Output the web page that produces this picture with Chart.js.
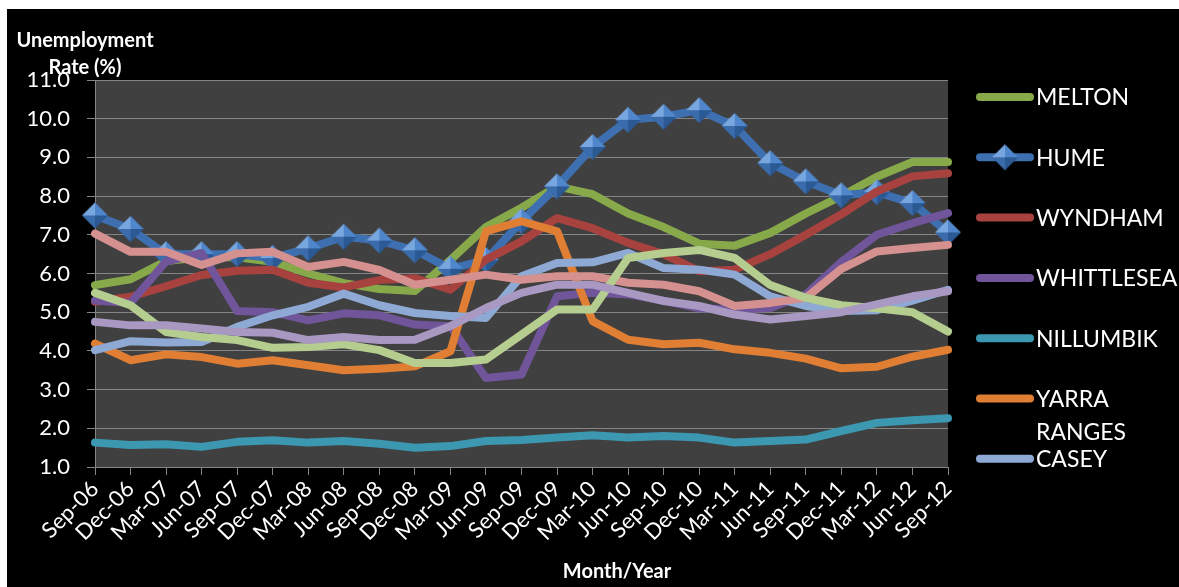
<!DOCTYPE html>
<html lang="en">
  <head>
    <meta charset="UTF-8" />
    <title>Unemployment Rate by Month/Year</title>
    <script src="https://cdn.jsdelivr.net/npm/chart.js"></script>
    <style>
      html,
      body {
        margin: 0;
        background: #ffffff;
      }
      /* black chart box, the page shows a thin white border top/left */
      .chart-box {
        position: absolute;
        left: 7px;
        top: 9px;
        width: 1172px;
        height: 578px;
        background: #000000;
      }
    </style>
  </head>
  <body>
    <div class="chart-box"><canvas id="unemploymentChart"></canvas></div>

    <script>
      const months = [
        "Sep-06", "Dec-06", "Mar-07", "Jun-07", "Sep-07", "Dec-07", "Mar-08", "Jun-08", "Sep-08",
        "Dec-08", "Mar-09", "Jun-09", "Sep-09", "Dec-09", "Mar-10", "Jun-10", "Sep-10", "Dec-10",
        "Mar-11", "Jun-11", "Sep-11", "Dec-11", "Mar-12", "Jun-12", "Sep-12"
      ];

      const melton = [5.7, 5.85, 6.32, 6.42, 6.42, 6.3, 6.0, 5.75, 5.6, 5.55, 6.35, 7.2, 7.7, 8.25, 8.05, 7.55, 7.2, 6.77, 6.72, 7.05, 7.55, 8.0, 8.5, 8.88, 8.88];
      const hume = [7.5, 7.15, 6.5, 6.5, 6.5, 6.4, 6.65, 6.95, 6.85, 6.6, 6.12, 6.35, 7.35, 8.25, 9.27, 9.97, 10.05, 10.22, 9.81, 8.85, 8.38, 8.02, 8.1, 7.82, 7.06];
      const wyndham = [5.27, 5.4, 5.67, 5.96, 6.07, 6.1, 5.76, 5.64, 5.83, 5.88, 5.58, 6.36, 6.83, 7.43, 7.17, 6.79, 6.5, 6.06, 6.1, 6.5, 7.0, 7.53, 8.12, 8.51, 8.59];
      const whittlesea = [5.3, 5.24, 6.31, 6.53, 5.03, 5.0, 4.79, 4.97, 4.92, 4.68, 4.64, 3.3, 3.39, 5.41, 5.5, 5.46, 5.3, 5.1, 5.07, 5.11, 5.46, 6.3, 7.0, 7.3, 7.56];
      const nillumbik = [1.63, 1.57, 1.59, 1.52, 1.65, 1.69, 1.63, 1.67, 1.6, 1.5, 1.54, 1.67, 1.7, 1.76, 1.82, 1.76, 1.8, 1.76, 1.63, 1.67, 1.71, 1.93, 2.14, 2.21, 2.26];
      const yarraRanges = [4.19, 3.76, 3.91, 3.84, 3.67, 3.76, 3.63, 3.5, 3.54, 3.6, 3.99, 7.09, 7.35, 7.09, 4.77, 4.29, 4.17, 4.21, 4.04, 3.95, 3.8, 3.55, 3.59, 3.85, 4.03];
      const casey = [4.02, 4.25, 4.22, 4.23, 4.62, 4.92, 5.14, 5.48, 5.18, 4.98, 4.9, 4.85, 5.93, 6.27, 6.29, 6.53, 6.14, 6.1, 5.97, 5.41, 5.16, 5.03, 5.05, 5.3, 5.58];
      // three more series are plotted but their legend entries are cut off
      const series8 = [7.03, 6.56, 6.56, 6.22, 6.52, 6.56, 6.17, 6.3, 6.09, 5.71, 5.84, 5.97, 5.84, 5.93, 5.93, 5.76, 5.71, 5.54, 5.16, 5.24, 5.37, 6.12, 6.57, 6.66, 6.74];
      const series9 = [5.5, 5.18, 4.49, 4.36, 4.28, 4.08, 4.1, 4.17, 4.02, 3.69, 3.69, 3.78, 4.42, 5.07, 5.07, 6.4, 6.53, 6.61, 6.4, 5.7, 5.37, 5.18, 5.1, 5.0, 4.5];
      const series10 = [4.75, 4.66, 4.66, 4.58, 4.49, 4.47, 4.28, 4.36, 4.28, 4.29, 4.64, 5.11, 5.5, 5.71, 5.71, 5.5, 5.29, 5.16, 4.94, 4.81, 4.9, 5.0, 5.2, 5.41, 5.54];

      const legendCount = 7;
      const FONT = "Lato, 'Open Sans', sans-serif";
      const GRID = "#858585";

      // shaded pyramid diamond like the Excel marker
      function makeDiamond(size) {
        const c = document.createElement("canvas");
        c.width = size;
        c.height = size;
        const g = c.getContext("2d");
        const m = size / 2;
        const e = size - 1;
        const faces = [
          [[m, 1], [1, m], "#78a6de"],
          [[m, 1], [e, m], "#4f86cc"],
          [[e, m], [m, e], "#2b5994"],
          [[m, e], [1, m], "#3a6bab"]
        ];
        faces.forEach(([a, b, col]) => {
          g.beginPath();
          g.moveTo(m, m);
          g.lineTo(a[0], a[1]);
          g.lineTo(b[0], b[1]);
          g.closePath();
          g.fillStyle = col;
          g.fill();
        });
        return c;
      }
      const diamond = makeDiamond(28);

      function line(label, data, color, i) {
        return {
          label,
          data,
          borderColor: color,
          backgroundColor: color,
          borderWidth: 8,
          borderCapStyle: "round",
          borderJoinStyle: "round",
          pointRadius: 0,
          tension: 0,
          clip: false,
          order: 20 - i // later series on top, like Excel
        };
      }

      const datasets = [
        line("MELTON", melton, "#88a94a", 0),
        line("HUME", hume, "#3e6fb0", 1),
        line("WYNDHAM", wyndham, "#a8423f", 2),
        line("WHITTLESEA", whittlesea, "#70559a", 3),
        line("NILLUMBIK", nillumbik, "#3c98b0", 4),
        line("YARRA RANGES", yarraRanges, "#e07f34", 5),
        line("CASEY", casey, "#8da9d4", 6),
        line("Series 8", series8, "#d59090", 7),
        line("Series 9", series9, "#b6cd90", 8),
        line("Series 10", series10, "#a898c2", 9)
      ];
      Object.assign(datasets[1], { pointStyle: diamond, pointRadius: 14, pointHoverRadius: 14 });

      const plotBackground = {
        id: "plotBackground",
        beforeDraw(chart) {
          const a = chart.chartArea;
          chart.ctx.save();
          chart.ctx.fillStyle = "#404040";
          chart.ctx.fillRect(a.left, a.top, a.right - a.left, a.bottom - a.top);
          chart.ctx.restore();
        }
      };

      const sideLegend = {
        id: "sideLegend",
        afterDraw(chart) {
          const ctx = chart.ctx;
          const x0 = 969, x1 = 1027, textX = 1029;
          const maxW = chart.width - textX;
          ctx.save();
          ctx.font = "23px " + FONT;
          ctx.textBaseline = "middle";
          chart.data.datasets.slice(0, legendCount).forEach((ds, i) => {
            const y = 88 + i * 60.3;
            ctx.strokeStyle = ds.borderColor;
            ctx.lineWidth = 8;
            ctx.lineCap = "round";
            ctx.beginPath();
            ctx.moveTo(x0 + 4, y);
            ctx.lineTo(x1 - 4, y);
            ctx.stroke();
            if (ds.pointStyle instanceof HTMLCanvasElement) {
              const p = ds.pointStyle;
              ctx.drawImage(p, (x0 + x1) / 2 - p.width / 2, y - p.height / 2);
            }
            // wrap long names onto a second line
            const words = ds.label.split(" ");
            const rows = [];
            let cur = "";
            words.forEach((w) => {
              const t = cur ? cur + " " + w : w;
              if (cur && ctx.measureText(t).width > maxW) {
                rows.push(cur);
                cur = w;
              } else cur = t;
            });
            rows.push(cur);
            ctx.fillStyle = "#ffffff";
            rows.forEach((t, k) => ctx.fillText(t, textX, y + 1 + k * 33));
          });
          ctx.restore();
        }
      };

      const axisTitles = {
        id: "axisTitles",
        afterDraw(chart) {
          const ctx = chart.ctx;
          ctx.save();
          ctx.fillStyle = "#ffffff";
          ctx.font = "bold 20px " + FONT;
          ctx.textAlign = "center";
          ctx.textBaseline = "middle";
          ctx.fillText("Unemployment", 78, 32);
          ctx.fillText("Rate (%)", 78, 59);
          ctx.fillText("Month/Year", 610, 563);
          ctx.restore();
        }
      };

      new Chart(document.getElementById("unemploymentChart"), {
        type: "line",
        data: { labels: months, datasets },
        plugins: [plotBackground, sideLegend, axisTitles],
        options: {
          responsive: true,
          maintainAspectRatio: false,
          animation: false,
          events: [],
          layout: { padding: { top: 71, right: 231, left: 0, bottom: 0 } },
          plugins: { legend: { display: false }, tooltip: { enabled: false } },
          scales: {
            x: {
              offset: false,
              grid: { drawOnChartArea: false, color: GRID, tickLength: 8 },
              border: { color: GRID, width: 1 },
              ticks: {
                color: "#ffffff",
                font: { family: FONT, size: 22 },
                minRotation: 45,
                maxRotation: 45,
                autoSkip: false,
                padding: 1
              },
              afterFit(scale) {
                scale.height = 120;
              }
            },
            y: {
              min: 1,
              max: 11,
              grid: { color: GRID, lineWidth: 1, tickLength: 8 },
              border: { color: GRID, width: 1 },
              ticks: {
                stepSize: 1,
                color: "#ffffff",
                font: { family: FONT, size: 22 },
                padding: 17,
                callback: (v) => v.toFixed(1)
              },
              afterFit(scale) {
                scale.width = 88;
              }
            }
          }
        }
      });
    </script>
  </body>
</html>
